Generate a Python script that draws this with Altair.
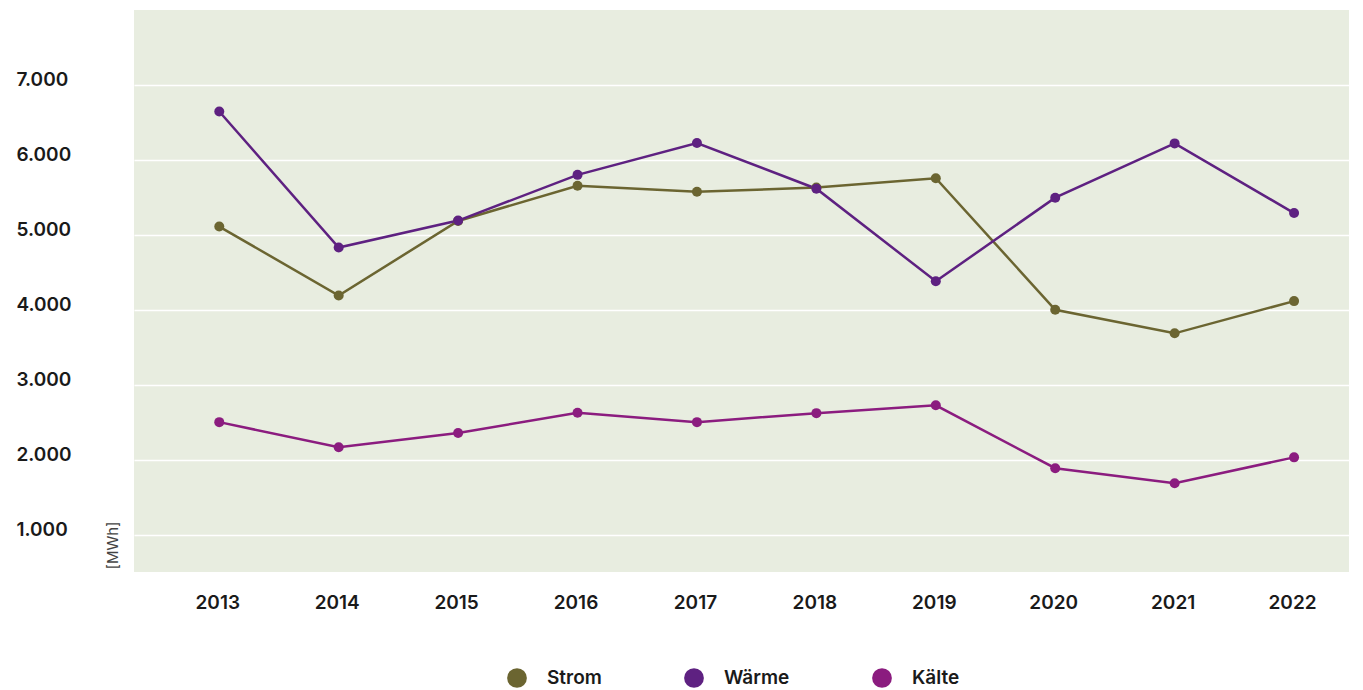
import altair as alt
import pandas as pd

years = [2013, 2014, 2015, 2016, 2017, 2018, 2019, 2020, 2021, 2022]
strom = [5110, 4190, 5185, 5655, 5575, 5630, 5755, 4000, 3685, 4115]
waerme = [6645, 4830, 5190, 5800, 6225, 5615, 4380, 5495, 6220, 5290]
kaelte = [2500, 2165, 2355, 2625, 2500, 2620, 2725, 1885, 1685, 2030]

series_names = ["Strom", "Wärme", "Kälte"]
series_colors = ["#6b6531", "#5e2181", "#8b1c7f"]
y_ticks = [1000, 2000, 3000, 4000, 5000, 6000, 7000]

rows = []
for name, vals in zip(series_names, [strom, waerme, kaelte]):
    for yr, v in zip(years, vals):
        rows.append({"Jahr": yr, "Wert": v, "Serie": name})
df = pd.DataFrame(rows)

FONT = "Inter"

x = alt.X("Jahr:Q",
          scale=alt.Scale(domain=[2012.286, 2022.46], nice=False, zero=False),
          axis=alt.Axis(values=years, format="d", title=None, grid=False, domain=False,
                        ticks=False, labelPadding=21, labelFontSize=19, labelFontWeight=600,
                        labelFont=FONT, labelColor="#1a1a1a", labelOffset=-2))
y = alt.Y("Wert:Q",
          scale=alt.Scale(domain=[500, 8000], nice=False, zero=False),
          axis=alt.Axis(values=y_ticks, title="[MWh]", grid=True, gridColor="#ffffff",
                        gridWidth=1.5, domain=False, ticks=False,
                        labelExpr="replace(format(datum.value, ','), ',', '.')",
                        labelAlign="left", labelPadding=118, labelOffset=-5,
                        labelFontSize=19, labelFontWeight=600, labelFont=FONT,
                        labelColor="#1a1a1a",
                        titleFont=FONT, titleFontSize=15, titleFontWeight=400,
                        titleColor="#444444", titleAngle=270, titleX=-22, titleY=535,
                        titleAlign="center", titleBaseline="middle"))

color_scale = alt.Scale(domain=series_names, range=series_colors)
legend = alt.Legend(title=None, orient="none", direction="horizontal",
                    legendX=373, legendY=658, symbolType="circle",
                    symbolSize=390, symbolStrokeWidth=0, symbolOpacity=1,
                    symbolFillColor="#6b6531",
                    labelFont=FONT, labelFontSize=19, labelFontWeight=600,
                    labelColor="#1a1a1a", labelOffset=20,
                    columnPadding=82)

lines = alt.Chart(df).mark_line(strokeWidth=2.5).encode(
    x=x, y=y,
    color=alt.Color("Serie:N", scale=color_scale, legend=legend),
    detail="Serie:N",
)

points = alt.Chart(df).mark_circle(size=100, opacity=1).encode(
    x=x, y=y,
    color=alt.Color("Serie:N", scale=color_scale, legend=legend),
)

chart = alt.layer(lines, points).properties(
    width=1215, height=562,
    padding={"left": 8, "top": 2, "right": 0, "bottom": 0},
).configure_view(
    fill="#e8ede0", stroke=None
)

chart.save("out.html", embed_options={"renderer": "svg", "actions": False})
